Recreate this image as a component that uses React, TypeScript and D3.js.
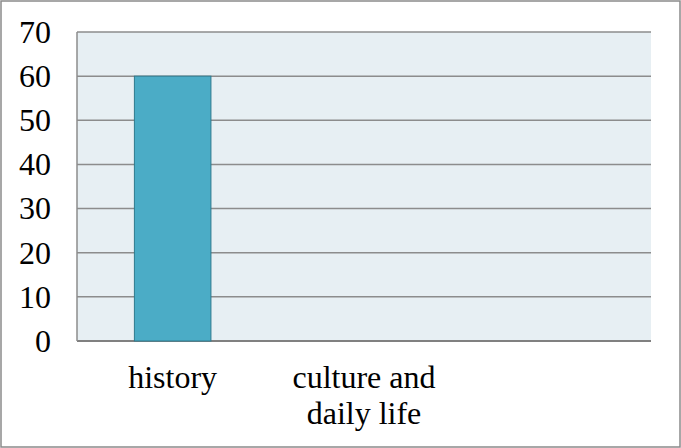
import React from "react";
import * as d3 from "d3";

const categories = ["history", "culture and daily life", ""];
const categoryLines = [["history"], ["culture and", "daily life"], []];
const values = [60, 0, null];
const yTicks = [0, 10, 20, 30, 40, 50, 60, 70];

export default function App() {
  const width = 681;
  const height = 448;
  const margin = { top: 32, right: 30, bottom: 107, left: 77 };

  const x = d3
    .scaleBand()
    .domain(categories)
    .range([margin.left, width - margin.right])
    .paddingInner(0.6)
    .paddingOuter(0.3);
  const y = d3.scaleLinear().domain([0, 70]).range([height - margin.bottom, margin.top]);

  const font = "'Liberation Serif', 'Times New Roman', serif";

  return (
    <svg
      width={width}
      height={height}
      style={{ position: "absolute", left: 0, top: 0, display: "block" }}
    >
      <rect x={0} y={0} width={width} height={height} fill="#fff" />
      <rect x={1} y={1} width={width - 2} height={height - 2} fill="none" stroke="#8a8a8a" strokeWidth={1.5} />

      <rect
        x={margin.left}
        y={margin.top}
        width={width - margin.left - margin.right}
        height={height - margin.top - margin.bottom}
        fill="#e7eff3"
      />

      {yTicks.map((t) => (
        <line
          key={t}
          x1={margin.left}
          x2={width - margin.right}
          y1={y(t)}
          y2={y(t)}
          stroke={t === 0 ? "#808080" : "#8c8c8c"}
          strokeWidth={t === 0 ? 2 : 1.5}
        />
      ))}
      <line x1={margin.left} x2={margin.left} y1={margin.top} y2={y(0)} stroke="#8c8c8c" strokeWidth={1.5} />

      {categories.map((c, i) =>
        values[i] ? (
          <rect
            key={c}
            x={x(c)}
            y={y(values[i] as number)}
            width={x.bandwidth()}
            height={y(0) - y(values[i] as number)}
            fill="#4bacc6"
            stroke="#2f7a8e"
            strokeWidth={1}
          />
        ) : null
      )}

      {yTicks.map((t) => (
        <text
          key={t}
          x={51}
          y={y(t)}
          dy="0.34em"
          textAnchor="end"
          fontFamily={font}
          fontSize={32}
          fill="#000"
        >
          {t}
        </text>
      ))}

      {categories.map((c, i) => (
        <text
          key={"c" + i}
          x={(x(c) as number) + x.bandwidth() / 2}
          y={388}
          textAnchor="middle"
          fontFamily={font}
          fontSize={32}
          fill="#000"
        >
          {categoryLines[i].map((line, j) => (
            <tspan key={j} x={(x(c) as number) + x.bandwidth() / 2} dy={j === 0 ? 0 : 36}>
              {line}
            </tspan>
          ))}
        </text>
      ))}
    </svg>
  );
}
